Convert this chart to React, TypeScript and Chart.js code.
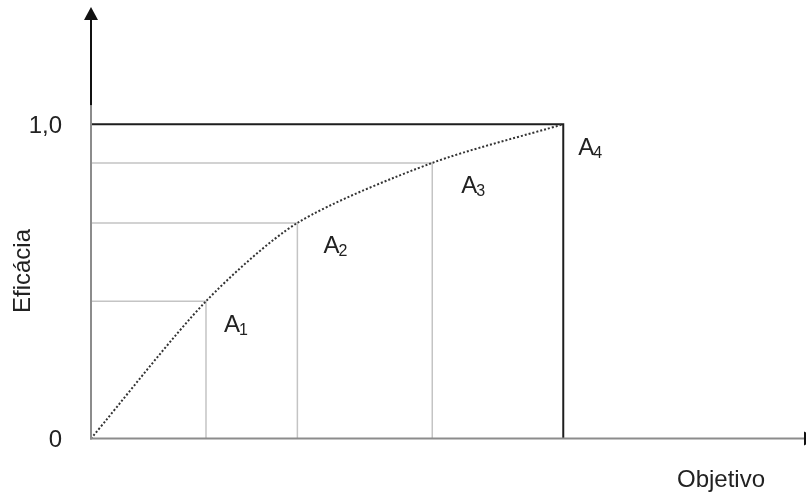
import React, { useEffect, useRef } from "react";
import { Chart, registerables } from "chart.js";

Chart.register(...registerables);

// ---- data ----
const pointLabels = ["A1", "A2", "A3", "A4"];
const objetivoValues = [0, 0.2435, 0.437, 0.7226, 1.0];
const eficaciaValues = [0, 0.4367, 0.686, 0.877, 1.0];
const tickValues = [0, 1];
const tickLabels = ["0", "1,0"];
const xAxisTitle = "Objetivo";
const yAxisTitle = "Eficácia";

// ---- style ----
const FONT = "'Liberation Sans', Arial, sans-serif";
const TEXT = "#222222";
const labelOffsets = [
  [18, 31],
  [26, 30],
  [29, 30],
  [15, 31],
];

export default function App() {
  const ref = useRef<HTMLCanvasElement | null>(null);

  useEffect(() => {
    const canvas = ref.current;
    if (!canvas) return;

    const curve = objetivoValues.map((x, i) => ({ x, y: eficaciaValues[i] }));
    const n = objetivoValues.length;
    const datasets: any[] = [];
    datasets.push({
      data: curve,
      showLine: true,
      borderColor: "#333333",
      borderWidth: 2,
      borderDash: [2, 2],
      tension: 0.27,
      pointRadius: 0,
      order: 0,
    });
    for (let i = 1; i < n; i++) {
      const last = i === n - 1;
      datasets.push({
        data: [
          { x: 0, y: eficaciaValues[i] },
          { x: objetivoValues[i], y: eficaciaValues[i] },
          { x: objetivoValues[i], y: 0 },
        ],
        showLine: true,
        borderColor: last ? "#1e1e1e" : "#c4c4c4",
        borderWidth: last ? 2 : 1.5,
        pointRadius: 0,
        tension: 0,
        order: last ? 1 : 2,
      });
    }

    const decor = {
      id: "decor",
      afterDatasetsDraw(chart: any) {
        const { ctx } = chart;
        const xs = chart.scales.x;
        const ys = chart.scales.y;
        const x0 = xs.getPixelForValue(0);
        const y0 = ys.getPixelForValue(0);
        const yTop = ys.getPixelForValue(ys.max);
        const xRight = xs.getPixelForValue(xs.max);
        const y1 = ys.getPixelForValue(1);
        ctx.save();
        // y axis
        ctx.lineWidth = 2;
        ctx.strokeStyle = "#8c8c8c";
        ctx.beginPath();
        ctx.moveTo(x0, y0 + 1);
        ctx.lineTo(x0, y1 - 19);
        ctx.stroke();
        ctx.strokeStyle = "#111";
        ctx.beginPath();
        ctx.moveTo(x0, y1 - 19);
        ctx.lineTo(x0, yTop + 13);
        ctx.stroke();
        ctx.fillStyle = "#111";
        ctx.beginPath();
        ctx.moveTo(x0, yTop);
        ctx.lineTo(x0 - 7, yTop + 13);
        ctx.lineTo(x0 + 7, yTop + 13);
        ctx.closePath();
        ctx.fill();
        // x axis
        ctx.strokeStyle = "#8c8c8c";
        ctx.beginPath();
        ctx.moveTo(x0 - 1, y0);
        ctx.lineTo(xRight - 2, y0);
        ctx.stroke();
        ctx.fillStyle = "#111";
        ctx.beginPath();
        ctx.moveTo(xRight + 11, y0);
        ctx.lineTo(xRight - 2, y0 - 7);
        ctx.lineTo(xRight - 2, y0 + 7);
        ctx.closePath();
        ctx.fill();

        // tick labels
        ctx.fillStyle = TEXT;
        ctx.font = `24px ${FONT}`;
        ctx.textAlign = "right";
        ctx.textBaseline = "middle";
        tickValues.forEach((v, i) => {
          ctx.fillText(tickLabels[i], 62, ys.getPixelForValue(v) + 2);
        });

        // titles
        ctx.textAlign = "center";
        ctx.fillText(xAxisTitle, 721, 480);
        ctx.save();
        ctx.translate(23, 271);
        ctx.rotate(-Math.PI / 2);
        ctx.fillText(yAxisTitle, 0, 0);
        ctx.restore();

        // point labels with subscripts
        ctx.textAlign = "left";
        ctx.textBaseline = "alphabetic";
        pointLabels.forEach((lab, k) => {
          const i = k + 1;
          const px = xs.getPixelForValue(objetivoValues[i]) + labelOffsets[k][0];
          const py = ys.getPixelForValue(eficaciaValues[i]) + labelOffsets[k][1];
          const main = lab.slice(0, 1);
          const sub = lab.slice(1);
          ctx.font = `24px ${FONT}`;
          ctx.fillText(main, px, py);
          const w = ctx.measureText(main).width;
          ctx.font = `16px ${FONT}`;
          ctx.fillText(sub, px + w - 1, py + 3);
        });
        ctx.restore();
      },
    };

    const chart = new Chart(canvas, {
      type: "scatter",
      data: { datasets },
      options: {
        animation: false,
        responsive: false,
        events: [],
        layout: { padding: { left: 91, right: 0, top: 7, bottom: 56.5 } },
        plugins: { legend: { display: false }, tooltip: { enabled: false } },
        scales: {
          x: { type: "linear", display: false, min: 0, max: 1.514 },
          y: { type: "linear", display: false, min: 0, max: 1.373 },
        },
      },
      plugins: [decor],
    });
    return () => chart.destroy();
  }, []);

  return (
    <div style={{ position: "fixed", left: 0, top: 0, width: 806, height: 495, background: "#fff" }}>
      <canvas ref={ref} width={806} height={495} style={{ display: "block" }} />
    </div>
  );
}
